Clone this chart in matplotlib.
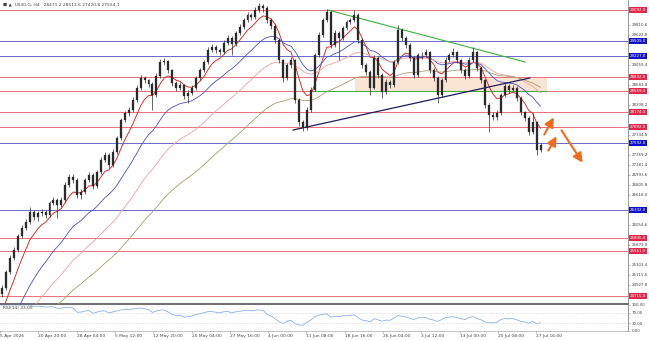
import numpy as np
import pandas as pd
import matplotlib
matplotlib.use('Agg')
from matplotlib import pyplot as plt
from matplotlib.patches import Rectangle
import matplotlib.transforms as mtransforms

# H4 candles (compressed), open of each bar = previous close
first_open = 24750
close = [24866, 25166, 25430, 25580, 25843, 25994, 26106, 26294, 26200, 26276,
         26294, 26238, 26464, 26520, 26426, 26520, 26802, 26952, 26896, 26614,
         26670, 26896, 26990, 26783, 27046, 27272, 27366, 27178, 27422, 27686,
         28024, 28156, 28212, 28400, 28626, 28814, 28776, 28701, 28494, 28851,
         29114, 29133, 28964, 28720, 28626, 28682, 28475, 28532, 28626, 28814,
         28964, 29114, 29340, 29396, 29340, 29302, 29472, 29566, 29453, 29660,
         29772, 29904, 29998, 29960, 30092, 30167, 30130, 29904, 29791, 29528,
         29152, 28814, 29058, 29152, 28400, 27986, 27874, 28212, 28588, 29246,
         29622, 29904, 30054, 29434, 29660, 29566, 29754, 29866, 29904, 29998,
         29528, 29058, 28926, 28626, 29190, 28870, 28550, 28738, 28682, 29114,
         29716, 29566, 29434, 29190, 28870, 29246, 29246, 29302, 28964, 28814,
         28494, 28776, 29152, 29246, 29302, 29152, 28964, 28851, 29152, 29302,
         29002, 28776, 28306, 28118, 28080, 28156, 28494, 28663, 28588, 28626,
         28438, 28174, 28062, 27798, 27986, 27460, 27554]
high = [24920, 25210, 25480, 25640, 25890, 26050, 26160, 26380, 26330, 26320,
        26350, 26330, 26500, 26570, 26560, 26580, 26850, 27010, 27000, 26930,
        26720, 26940, 27050, 27020, 27090, 27320, 27420, 27400, 27470, 27730,
        28070, 28200, 28270, 28460, 28680, 28870, 28850, 28800, 28740, 28900,
        29170, 29190, 29160, 28990, 28760, 28740, 28710, 28580, 28680, 28860,
        29010, 29160, 29390, 29450, 29430, 29380, 29520, 29620, 29600, 29700,
        29820, 29950, 30050, 30040, 30140, 30224, 30200, 30160, 29940, 29830,
        29560, 29180, 29100, 29210, 29180, 28430, 28030, 28260, 28640, 29290,
        29670, 29950, 30110, 30080, 29710, 29700, 29800, 29910, 29950, 30092,
        30030, 29560, 29100, 28960, 29240, 29220, 28900, 28790, 28780, 29160,
        29810, 29750, 29600, 29470, 29220, 29290, 29300, 29350, 29330, 29000,
        28850, 28820, 29200, 29290, 29378, 29330, 29180, 29000, 29200, 29396,
        29330, 29040, 28800, 28340, 28170, 28210, 28540, 28720, 28700, 28680,
        28660, 28470, 28200, 28090, 28156, 28010, 27600]
low = [24700, 24830, 25120, 25390, 25540, 25800, 25950, 26060, 26150, 26130,
       26220, 26180, 26200, 26420, 26180, 26380, 26480, 26760, 26840, 26560,
       26540, 26630, 26850, 26730, 26750, 27000, 27230, 27120, 27140, 27390,
       27650, 27980, 28100, 28170, 28360, 28580, 28720, 28640, 28212, 28450,
       28820, 29060, 28910, 28670, 28560, 28580, 28420, 28344, 28490, 28590,
       28780, 28930, 29080, 29300, 29290, 29250, 29270, 29430, 29246, 29420,
       29620, 29740, 29860, 29900, 29930, 30050, 30060, 29850, 29740, 29470,
       29090, 28740, 28780, 29010, 28340, 27920, 27817, 27840, 28180, 28560,
       29200, 29580, 29870, 29380, 29400, 29152, 29530, 29720, 29830, 29870,
       29480, 29000, 28870, 28494, 28600, 28820, 28438, 28510, 28630, 28650,
       29080, 29510, 29380, 29130, 28810, 28840, 29180, 29200, 28910, 28760,
       28344, 28460, 28740, 29110, 29200, 29100, 28910, 28800, 28820, 29120,
       28950, 28720, 28250, 27798, 28020, 28030, 28120, 28460, 28540, 28560,
       28380, 28120, 28000, 27740, 27760, 27366, 27420]
# closes before the visible window (only feed the moving averages)
pre_close = [23400, 23650, 23900, 24100, 24300, 24450, 24600, 24700]

# horizontal levels
red_levels = [30092, 28832, 28569, 28174, 27892, 25806, 25561, 24715]
blue_levels = [29509, 29227, 27592, 26332]
zone_low, zone_high = 28569, 28832
zone_start, zone_end = 89.1, 137.6
green_seg_start = 78.5
green_trend = [(82.3, 30092), (132.1, 29114)]
navy_trend = [(73.5, 27836), (133.3, 28814)]
arrows = [((136.6, 27705), (139.7, 28118)),
          ((137.6, 27404), (140.4, 27761)),
          ((140.9, 27874), (147.0, 27178))]

price_ticks = [30186.2, 29998.4, 29810.6, 29622.8, 29435.0, 29247.2, 29059.4,
               28871.6, 28683.8, 28496.0, 28308.2, 28120.4, 27932.6, 27744.8,
               27557.0, 27369.2, 27181.4, 26993.6, 26805.8, 26618.0, 26430.2,
               26242.4, 26054.6, 25866.8, 25679.0, 25491.2, 25303.4, 25115.6,
               24927.8, 24740.0]
date_labels = ['5 Apr 2026', '20 Apr 20:00', '28 Apr 04:00', '5 May 12:00',
               '12 May 20:00', '20 May 04:00', '27 May 16:00', '4 Jun 00:00',
               '11 Jun 08:00', '18 Jun 16:00', '26 Jun 04:00', '3 Jul 12:00',
               '13 Jul 00:00', '20 Jul 08:00', '27 Jul 16:00']

W, H = 649, 340
PX = 3.96  # pixels per bar
XMAX = 628 / PX - 0.5
fig = plt.figure(figsize=(W / 100, H / 100), dpi=100)
ax = fig.add_axes([0, 36 / H, 628 / W, 304 / H])
ax2 = fig.add_axes([0, 9 / H, 628 / W, 26 / H])

n = len(close)
x = np.arange(n)
c = np.array(close, float)
o = np.array([first_open] + close[:-1], float)
hi = np.maximum(np.array(high, float), np.maximum(o, c))
lo = np.minimum(np.array(low, float), np.minimum(o, c))

# moving averages over warm-up + visible closes
allc = pd.Series(pre_close + close, dtype=float)
xa = np.arange(-len(pre_close), n)
ma_styles = [(7, '#e0302c', 0.7), (20, '#4a50cc', 0.6), (36, '#f0a0a0', 0.6), (60, '#a4a070', 0.6)]
for span, col, lw in ma_styles:
    ema = allc.ewm(span=span, adjust=False).mean()
    ax.plot(xa, ema, color=col, lw=lw, zorder=3)

# level lines
for lv in red_levels:
    ax.axhline(lv, color='#e8707c', lw=0.7, zorder=1)
for lv in blue_levels:
    ax.axhline(lv, color='#6a6ac8', lw=0.7, zorder=1)

ax.add_patch(Rectangle((zone_start, zone_low), zone_end - zone_start, zone_high - zone_low,
                       facecolor='#f5d3b8', alpha=0.6, edgecolor='none', zorder=0.5))
ax.plot([green_seg_start, zone_end], [zone_low, zone_low], color='#40b040', lw=0.8, zorder=2)
ax.plot(*zip(*green_trend), color='#3cb43c', lw=0.8, zorder=4)
ax.plot(*zip(*navy_trend), color='#1c1c5c', lw=0.9, zorder=4)

# candles
ax.vlines(x, lo, hi, color='#2a2a2a', lw=0.5, zorder=5)
ax.bar(x, c - o, bottom=o, width=0.5, color='#2a2a2a', edgecolor='#2a2a2a', lw=0.2, zorder=6)

for (x0, y0), (x1, y1) in arrows:
    ax.annotate('', xy=(x1, y1), xytext=(x0, y0),
                arrowprops=dict(arrowstyle='-|>,head_length=0.55,head_width=0.28',
                                color='#f26a1b', lw=1.5), zorder=7)

ax.set_xlim(-0.5, XMAX)
ax.set_ylim(30280 - 18.8 * 304, 30280)
ax.set_xticks([])
ax.yaxis.tick_right()
# ticks hidden under level boxes are left out
levels_all = red_levels + blue_levels
shown_ticks = [t for t in price_ticks if min(abs(t - lv) for lv in levels_all) > 100]
ax.set_yticks(shown_ticks)
ax.set_yticklabels(['%.1f' % v for v in shown_ticks], fontsize=2.9, color='#444444')
ax.tick_params(axis='y', length=1.5, width=0.4, pad=1.0, color='#888888')
for s in ['top', 'left']:
    ax.spines[s].set_visible(False)
ax.spines['right'].set_color('#888888')
ax.spines['right'].set_linewidth(0.6)
ax.spines['bottom'].set_color('#555555')
ax.spines['bottom'].set_linewidth(1.2)

trans = mtransforms.blended_transform_factory(ax.transAxes, ax.transData)
for lv in red_levels:
    ax.text(1.003, lv, '%.1f' % lv, transform=trans, fontsize=2.9, color='white',
            va='center', ha='left', clip_on=False, zorder=10,
            bbox=dict(boxstyle='square,pad=0.2', fc='#e0284a', ec='none'))
for lv in blue_levels:
    ax.text(1.003, lv, '%.1f' % lv, transform=trans, fontsize=2.9, color='white',
            va='center', ha='left', clip_on=False, zorder=10,
            bbox=dict(boxstyle='square,pad=0.2', fc='#1010c8', ec='none'))

ax.text(0.004, 0.992, '\u25a0 \u25b2  US30.G, H4   28471.2 28513.6 27420.8 27554.1',
        transform=ax.transAxes, fontsize=3.2, color='#444444', va='top', ha='left')

# RSI panel
d = allc.diff()
gain = d.clip(lower=0).ewm(alpha=1 / 10, adjust=False).mean()
loss = (-d.clip(upper=0)).ewm(alpha=1 / 10, adjust=False).mean()
rsi = 100 - 100 / (1 + gain / loss)
ax2.plot(xa, rsi, color='#8fb0e0', lw=0.6)
for lv in [70, 30]:
    ax2.axhline(lv, color='#cccccc', lw=0.4, ls=(0, (2, 2)))
ax2.set_xlim(-0.5, XMAX)
ax2.set_ylim(0, 100)
ax2.yaxis.tick_right()
ax2.set_yticks([100, 70, 30, 0])
ax2.set_yticklabels(['100.00', '70.00', '30.00', '0.00'], fontsize=2.9, color='#444444')
ax2.tick_params(axis='y', length=1.5, width=0.4, pad=1.0, color='#888888')
tick_pos = np.arange(len(date_labels)) * 38.3 / PX - 0.5
ax2.set_xticks(tick_pos)
ax2.set_xticklabels(date_labels, fontsize=3.2, color='#444444', ha='left')
ax2.tick_params(axis='x', length=1.5, width=0.4, pad=1.0, color='#888888')
for s in ['top', 'left']:
    ax2.spines[s].set_visible(False)
ax2.spines['right'].set_color('#888888')
ax2.spines['right'].set_linewidth(0.6)
ax2.spines['bottom'].set_color('#aaaaaa')
ax2.spines['bottom'].set_linewidth(0.5)
ax2.text(0.004, 0.95, 'RSI(14) 33.09', transform=ax2.transAxes, fontsize=3.2,
         color='#444444', va='top', ha='left')

fig.savefig('out.png', dpi=100)
